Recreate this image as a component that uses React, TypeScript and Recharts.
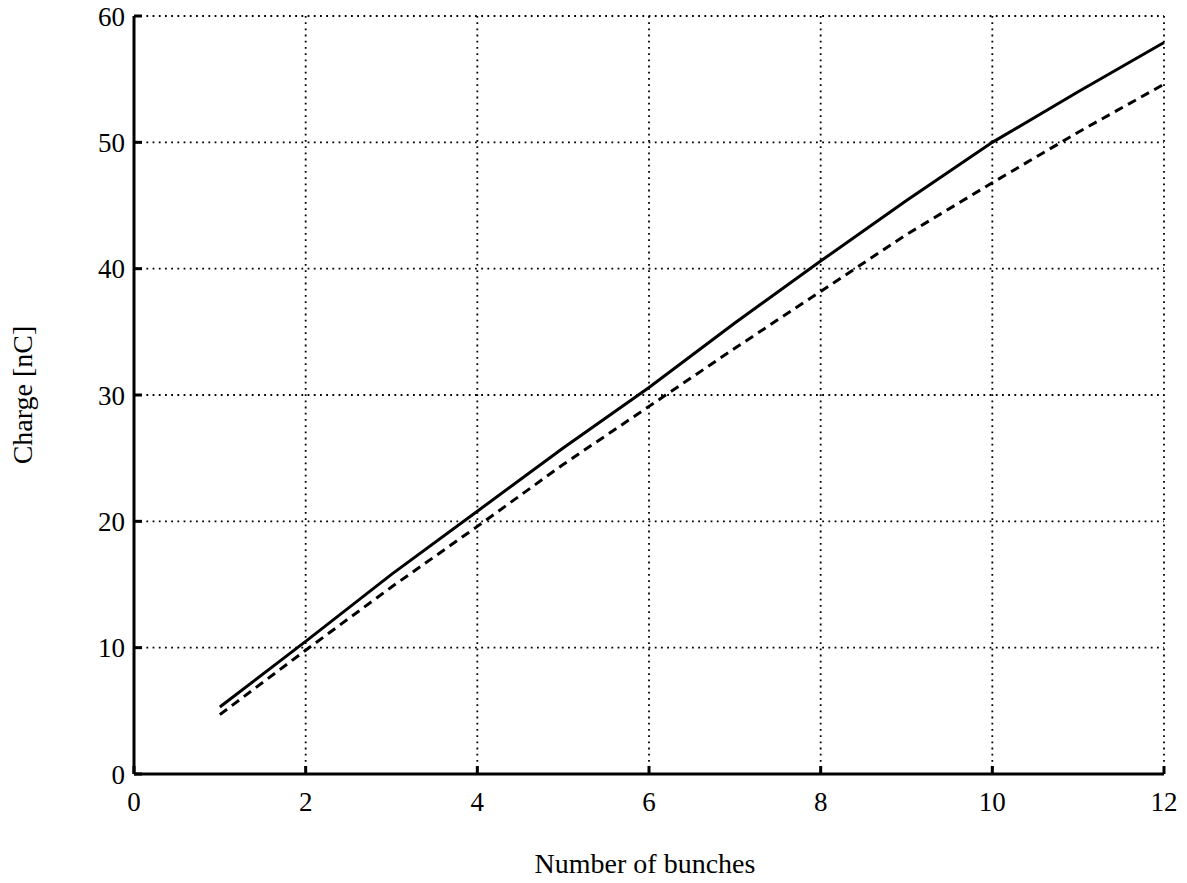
import { LineChart, Line, XAxis, YAxis, CartesianGrid } from "recharts";

// bunches vs charge
const bunches = [1, 2, 3, 4, 5, 6, 7, 8, 9, 10, 11, 12];
const chargeSolid = [5.3, 10.5, 15.8, 20.8, 25.8, 30.6, 35.7, 40.6, 45.4, 50.0, 54.0, 57.9];
const chargeDashed = [4.7, 9.8, 14.8, 19.6, 24.5, 29.1, 33.7, 38.2, 42.7, 46.8, 50.8, 54.6];

const xTicks = [0, 2, 4, 6, 8, 10, 12];
const yTicks = [0, 10, 20, 30, 40, 50, 60];

const data = bunches.map((n, i) => ({ n, solid: chargeSolid[i], dashed: chargeDashed[i] }));

const FONT = "'Liberation Serif', 'Times New Roman', serif";
const tickStyle = { fontSize: 27, fill: "#000", fontFamily: FONT };

export default function App() {
  return (
    <div style={{ position: "absolute", left: 0, top: 0, background: "#fff" }}>
      <LineChart width={1187} height={883} data={data} margin={{ top: 16, right: 23, bottom: 9, left: 74 }}>
        <CartesianGrid stroke="#000" strokeWidth={1.8} strokeDasharray="1.8 4.4" />
        <XAxis
          dataKey="n"
          type="number"
          domain={[0, 12]}
          ticks={xTicks}
          height={100}
          stroke="#000"
          strokeWidth={3}
          tickSize={-8}
          tickMargin={26}
          tick={tickStyle}
          label={{
            content: ({ viewBox }: any) => (
              <text x={viewBox.x + viewBox.width / 2 - 4} y={873} textAnchor="middle" fontSize={28} fontFamily={FONT} fill="#000">
                Number of bunches
              </text>
            ),
          }}
        />
        <XAxis xAxisId="top" orientation="top" dataKey="n" type="number" domain={[0, 12]} ticks={xTicks} height={0} stroke="#000" strokeWidth={3} tickSize={-8} tick={false} />
        <YAxis
          type="number"
          domain={[0, 60]}
          ticks={yTicks}
          width={60}
          stroke="#000"
          strokeWidth={3}
          tickSize={-8}
          tickMargin={17}
          tick={tickStyle}
          label={{
            content: ({ viewBox }: any) => (
              <text transform={`translate(32, ${viewBox.y + viewBox.height / 2}) rotate(-90)`} textAnchor="middle" fontSize={28} fontFamily={FONT} fill="#000">
                Charge [nC]
              </text>
            ),
          }}
        />
        <YAxis yAxisId="right" orientation="right" type="number" domain={[0, 60]} ticks={yTicks} width={0} stroke="#000" strokeWidth={3} tickSize={-8} tick={false} />
        <Line dataKey="solid" stroke="#000" strokeWidth={3} dot={false} isAnimationActive={false} />
        <Line dataKey="dashed" stroke="#000" strokeWidth={3} strokeDasharray="9 6" dot={false} isAnimationActive={false} />
      </LineChart>
    </div>
  );
}
